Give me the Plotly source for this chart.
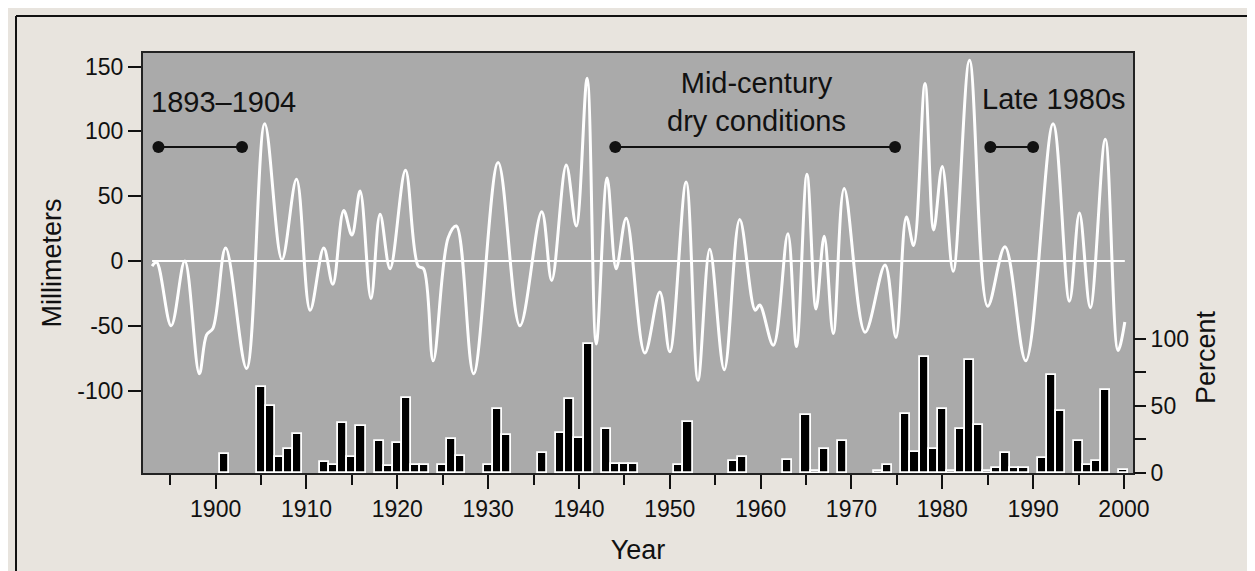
import plotly.graph_objects as go

# ---- data ----
line_years = [1893.0, 1893.5, 1895.1, 1896.6, 1898.2, 1899.0, 1899.7, 1901.1, 1903.4, 1905.4,
              1907.3, 1908.9, 1910.4, 1911.9, 1912.9, 1914.1, 1915.0, 1915.9, 1917.1, 1918.1,
              1919.2, 1920.9, 1922.3, 1922.9, 1923.95, 1925.6, 1926.5, 1928.4, 1931.1, 1933.5,
              1935.9, 1937.0, 1938.6, 1939.7, 1940.9, 1941.9, 1943.1, 1944.1, 1945.2, 1947.25,
              1948.9, 1950.0, 1951.8, 1953.1, 1954.4, 1956.0, 1957.7, 1959.4, 1959.9, 1961.4,
              1963.0, 1963.95, 1965.1, 1966.1, 1967.0, 1968.0, 1969.2, 1971.5, 1973.7, 1974.9,
              1976.05, 1976.85, 1978.1, 1979.05, 1980.0, 1981.2, 1983.0, 1985.0, 1986.9, 1989.2,
              1992.2, 1994.0, 1995.1, 1996.3, 1997.95, 1999.35, 2000.1]
line_mm = [-4, -1, -50, 0, -87, -57, -52, 10, -83, 106,
           1, 63, -38, 10, -18, 39, 20, 54, -29, 36,
           -6, 70, -4, -6, -77, 18, 27, -87, 76, -50,
           38, -15, 74, 27, 141, -64, 64, -6, 33, -71,
           -24, -70, 61, -92, 9, -84, 32, -38, -34, -65,
           21, -66, 67, -37, 19, -56, 56, -55, -3, -59,
           34, 12, 137, 24, 73, -8, 155, -35, 11, -77,
           106, -31, 37, -36, 94, -69, -47]

bar_years = [1901, 1905, 1906, 1907, 1908, 1909, 1912, 1913, 1914, 1915, 1916, 1918, 1919,
             1920, 1921, 1922, 1923, 1925, 1926, 1927, 1930, 1931, 1932, 1936, 1938, 1939,
             1940, 1941, 1943, 1944, 1945, 1946, 1951, 1952, 1957, 1958, 1963, 1965, 1966,
             1967, 1969, 1973, 1974, 1976, 1977, 1978, 1979, 1980, 1981, 1982, 1983, 1984,
             1985, 1986, 1987, 1988, 1989, 1991, 1992, 1993, 1995, 1996, 1997, 1998, 2000]
bar_pct = [14, 64, 50, 12, 18, 29, 8.5, 6, 37, 12, 35, 24, 5,
           22, 56, 6, 6, 6, 25, 13, 6, 48, 28, 15, 30, 55,
           26, 96, 33, 7, 7, 7, 6, 38, 9, 12, 10, 43, 1.5,
           18, 24, 1.5, 6, 44, 16, 86, 18, 48, 1.5, 33, 84, 36,
           1.5, 4, 15, 4, 4, 11, 73, 46, 24, 6, 9, 62, 2.5]

x_ticks = [1900, 1910, 1920, 1930, 1940, 1950, 1960, 1970, 1980, 1990, 2000]
mm_ticks = [-100, -50, 0, 50, 100, 150]
mm_labels = ["-100", "-50", "0", "50", "100", "150"]
pct_ticks = [0, 25, 50, 75, 100]
pct_labels = ["0", "", "50", "", "100"]

period_starts = [1893.7, 1944.0, 1985.3]
period_ends = [1902.9, 1974.8, 1990.0]
period_level = 88

label_texts = ["1893–1904", "Mid-century<br>dry conditions", "Late 1980s"]
label_x = [1900.85, 1959.6, 1992.3]
label_y = [123, 123, 125]

FONT = "Liberation Sans, Arial, sans-serif"
INK = "#111111"

fig = go.Figure()

fig.add_trace(go.Bar(
    x=bar_years, y=bar_pct, yaxis="y2", width=1.0,
    marker=dict(color="black", line=dict(color="white", width=1.8)),
    showlegend=False, hoverinfo="x+y"))

fig.add_trace(go.Scatter(
    x=[line_years[0], line_years[-1]], y=[0, 0], mode="lines",
    line=dict(color="white", width=2), showlegend=False, hoverinfo="skip"))

fig.add_trace(go.Scatter(
    x=line_years, y=line_mm, mode="lines",
    line=dict(color="white", width=3, shape="spline", smoothing=1.0),
    showlegend=False))

for s, e in zip(period_starts, period_ends):
    fig.add_trace(go.Scatter(
        x=[s, e], y=[period_level, period_level], mode="lines+markers",
        line=dict(color=INK, width=2), marker=dict(color=INK, size=12),
        showlegend=False, hoverinfo="skip"))

for t, x, y in zip(label_texts, label_x, label_y):
    fig.add_annotation(x=x, y=y, xref="x", yref="y", text=t, showarrow=False,
                       font=dict(family=FONT, size=29, color=INK), align="center")

# outer frame of the figure
L, R, T, B = 135, 1125, 45, 465
def px_x(p):
    return (p - L) / (R - L)
def px_y(p):
    return (B - p) / (B - T)
frame = dict(type="line", xref="paper", yref="paper", line=dict(color=INK, width=2))
fig.add_shape(**frame, x0=px_x(8), x1=px_x(8), y0=px_y(8), y1=px_y(580))
fig.add_shape(**frame, x0=px_x(8), x1=px_x(1247), y0=px_y(8), y1=px_y(8))
fig.add_shape(**frame, x0=px_x(1247), x1=px_x(1247), y0=px_y(8), y1=px_y(580))

# right axis title, centred on the 0-100 % span
fig.add_annotation(x=px_x(1215), y=px_y(398), xref="paper", yref="paper", text="Percent",
                   textangle=-90, showarrow=False,
                   font=dict(family=FONT, size=27, color=INK))

axis_common = dict(showgrid=False, zeroline=False, ticks="outside", tickcolor=INK,
                   tickwidth=2, tickfont=dict(family=FONT, size=23, color=INK),
                   title_font=dict(family=FONT, size=27, color=INK))

fig.update_layout(
    width=1255, height=571,
    margin=dict(l=L, r=1255 - R, t=T, b=571 - B, autoexpand=False),
    paper_bgcolor="#e8e4de", plot_bgcolor="#aaaaaa",
    bargap=0,
    xaxis=dict(range=[1892, 2001], tickvals=x_ticks, ticklen=14,
               minor=dict(dtick=5, tick0=1895, ticklen=10, ticks="outside",
                          tickcolor=INK, tickwidth=2),
               showline=True, linecolor="#222222", linewidth=2, mirror=True,
               title=dict(text="Year", standoff=20), **axis_common),
    yaxis=dict(range=[-163.6, 160.5], tickvals=mm_ticks, ticktext=mm_labels, ticklen=13,
               showline=True, linecolor="#222222", linewidth=2, mirror=True,
               title=dict(text="Millimeters", standoff=8), **axis_common),
    yaxis2=dict(overlaying="y", range=[0, 312.7], anchor="x", side="right",
                tickvals=pct_ticks, ticktext=pct_labels, ticklen=12, showline=False,
                **axis_common),
)

fig.write_html("out.html")
